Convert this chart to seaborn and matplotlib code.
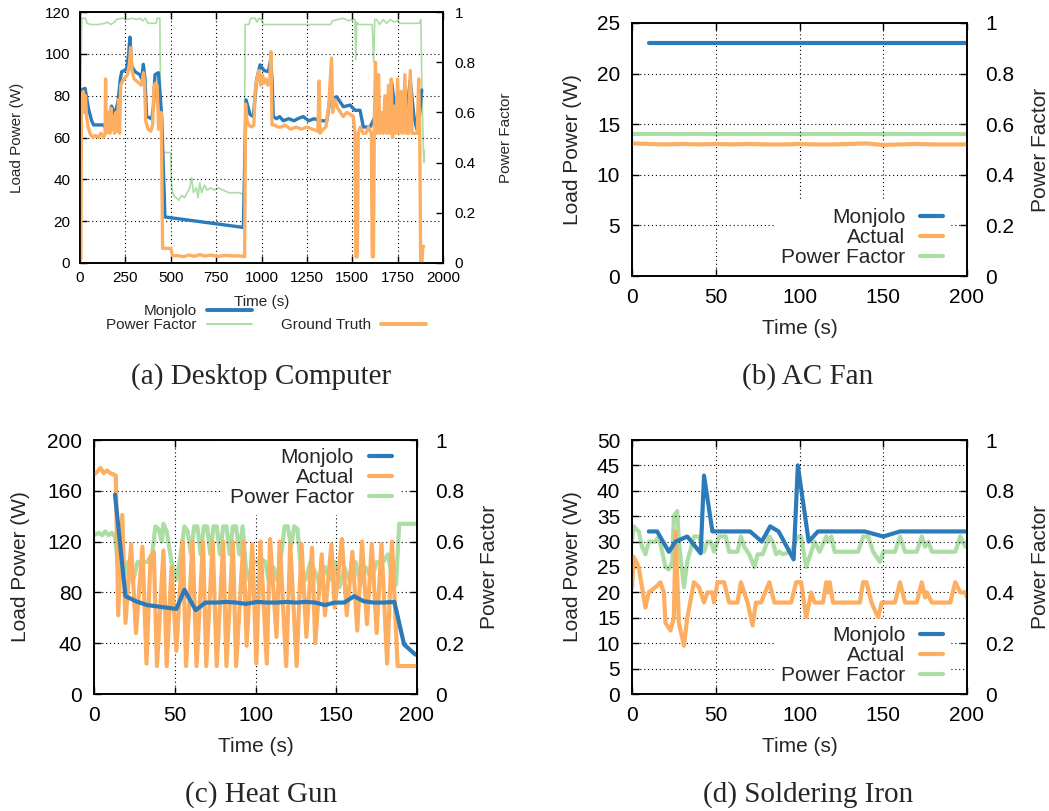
import numpy as np
import pandas as pd
import matplotlib
matplotlib.use("Agg")
import matplotlib.pyplot as plt
from matplotlib.lines import Line2D
from matplotlib.ticker import FuncFormatter
import seaborn as sns

sns.set_theme(style="white")
plt.rcParams['font.family'] = ['Liberation Sans', 'DejaVu Sans']

BLUE = '#2b7bba'
ORANGE = '#fdae61'
GREEN = '#abdda4'

# ---------------- (a) Desktop Computer ----------------
desk_mon_t = [8, 15, 28, 46, 64, 75, 100, 128, 140, 147, 160, 174, 193, 211, 222, 230, 245, 257, 268,
              275, 285, 303, 330, 340, 349, 358, 367, 395, 405, 413, 432, 442, 450, 468, 900, 915, 937,
              955, 973, 992, 1014, 1038, 1050, 1058, 1065, 1083, 1100, 1120, 1150, 1180, 1200, 1230,
              1260, 1290, 1320, 1340, 1360, 1377, 1414, 1451, 1488, 1515, 1543, 1561, 1598, 1635, 1672,
              1700, 1718, 1740, 1755, 1782, 1800, 1819, 1840, 1855, 1870, 1883]
desk_mon_w = [82, 83, 83.5, 74, 68, 66, 66, 66, 65, 72, 70, 75, 71, 78, 88, 91.5, 92, 93, 100,
              108, 94, 91.5, 90, 88, 95, 88, 70, 69, 75, 90, 91, 80, 70, 22, 17, 78, 71,
              70, 87.5, 94.7, 92, 91.5, 97, 88, 70, 69, 70, 68, 69, 68, 69, 70,
              68, 69, 68, 68, 68, 78, 79.5, 74.7, 75.5, 73, 73, 65, 65, 71.5, 71.5,
              68, 86, 70, 79.5, 81, 70, 87.5, 70, 64, 70, 82.7]

desk_gt_t = [0, 5, 8, 12, 18, 24, 30, 36, 45, 55, 70, 85, 100, 115, 130, 138, 141, 145, 155, 160, 165,
             172, 178, 184, 190, 198, 205, 212, 218, 224, 235, 250, 262, 272, 279, 286, 298, 312, 325,
             338, 350, 356, 362, 375, 390, 400, 407, 416, 425, 433, 441, 448, 455, 500, 510, 540, 570,
             600, 630, 660, 690, 720, 760, 800, 850, 900, 907, 912, 920, 930, 945, 958, 965, 975, 985,
             995, 1005, 1015, 1025, 1035, 1045, 1052, 1058, 1070, 1090, 1110, 1130, 1160, 1190, 1220,
             1250, 1280, 1310, 1318, 1322, 1340, 1355, 1370, 1386, 1392, 1405, 1420, 1435, 1450, 1470,
             1490, 1505, 1515, 1520, 1527, 1530, 1533, 1545, 1560, 1575, 1590, 1605, 1610, 1617, 1622,
             1628, 1635, 1645, 1652, 1660, 1670, 1680, 1690, 1700, 1708, 1715, 1722, 1730, 1740, 1750,
             1760, 1770, 1780, 1790, 1800, 1810, 1820, 1830, 1845, 1858, 1866, 1872, 1877, 1884, 1888,
             1893]
desk_gt_w = [2, 2, 78, 80, 82, 72, 80, 70, 65, 62, 60, 61, 60, 62, 60, 62, 88, 62, 65, 72, 62,
             74, 64, 70, 62, 72, 63, 78, 62, 85, 87, 89, 90, 95, 103, 92, 88, 87, 86,
             85, 91, 85, 68, 64, 63, 66, 84, 86, 85, 64, 65, 72, 7, 7, 3.5, 3.5, 3,
             3.8, 3.2, 4, 3.3, 3.8, 3.2, 3.6, 3.4, 3.3, 3, 76, 68, 66, 65, 66, 82, 88, 92,
             85, 90, 86, 88, 85, 87, 101, 66, 66, 65, 65, 66, 64, 65, 64,
             65, 64, 63, 87, 62, 64, 65, 75, 98, 72, 78, 74, 72, 70, 72,
             71, 70, 62, 3, 3, 17, 62, 65, 62, 62, 65, 62, 3, 3, 70,
             96, 62, 90, 62, 72, 62, 80, 62, 85, 62, 88, 60, 75, 62, 88,
             62, 82, 62, 90, 62, 62, 92, 62, 62, 62, 88, 60, 0, 0, 7,
             8]

desk_pf_t = [3, 10, 30, 38, 60, 100, 140, 150, 170, 190, 200, 230, 260, 290, 310, 330, 345, 360, 375,
             400, 420, 425, 440, 446, 500, 505, 515, 530, 545, 560, 575, 590, 605, 615, 625, 640, 650,
             660, 670, 685, 700, 720, 740, 760, 790, 820, 850, 880, 905, 910, 930, 940, 965, 975, 985,
             1000, 1010, 1100, 1200, 1300, 1380, 1390, 1420, 1450, 1480, 1500, 1515, 1520, 1525, 1535,
             1600, 1610, 1618, 1624, 1635, 1650, 1670, 1690, 1710, 1730, 1750, 1760, 1800, 1830, 1870,
             1878, 1884, 1892, 1895, 1897]
desk_pf_v = [0.65, 0.975, 0.975, 0.955, 0.95, 0.95, 0.955, 0.96, 0.95, 0.96, 0.97, 0.975, 0.97, 0.975,
             0.97, 0.975, 0.965, 0.975, 0.955, 0.955, 0.955, 0.975, 0.975, 0.44, 0.44, 0.30, 0.27,
             0.26, 0.25, 0.27, 0.26, 0.28, 0.30, 0.34, 0.28, 0.30, 0.26, 0.32, 0.28, 0.31, 0.29, 0.30,
             0.29, 0.30, 0.29, 0.28, 0.28, 0.28, 0.27, 0.95, 0.95, 0.975, 0.975, 0.96, 0.975, 0.97,
             0.95, 0.95, 0.95, 0.95, 0.95, 0.965, 0.97, 0.975, 0.965, 0.97, 0.97, 0.81, 0.96, 0.95,
             0.95, 0.95, 0.80, 0.97, 0.97, 0.95, 0.97, 0.955, 0.97, 0.96, 0.965, 0.955, 0.955, 0.955,
             0.955, 0.97, 0.69, 0.44, 0.40, 0.45]

# ---------------- (b) AC Fan ----------------
fan_mon_t = [10, 20, 30, 40, 50, 60, 70, 80, 90, 100, 110, 120, 130, 140, 150, 160, 170, 180, 190, 200]
fan_mon_w = [23] * 20
fan_act_t = [0, 10, 20, 30, 40, 50, 60, 70, 80, 90, 100, 110, 120, 130, 140, 150, 160, 170, 180, 190, 200]
fan_act_w = [13.1, 13.05, 13.0, 13.05, 13.0, 13.05, 13.0, 13.05, 13.0, 13.0, 13.05, 13.0, 13.0,
             13.05, 13.1, 12.95, 13.0, 13.05, 13.0, 13.0, 13.0]
fan_pf_t = [0, 50, 100, 150, 200]
fan_pf_v = [0.56, 0.56, 0.56, 0.56, 0.56]

# ---------------- (c) Heat Gun ----------------
gun_mon_t = [13, 19.5, 26, 33, 39, 45, 51, 56, 63, 69, 76, 82, 88, 94, 101, 107, 113, 119, 125, 131,
             137, 143, 149, 155, 161, 167, 173, 179, 186, 192, 199]
gun_mon_w = [157, 77, 73, 70, 69, 68, 67, 82, 66, 72, 72, 72.5, 72, 71, 72.5, 72, 72, 72.5, 72, 72.5,
             72, 70, 72, 72, 77, 73, 72, 72, 72.5, 39, 31]
gun_act_t = [0, 2, 4, 6, 8, 10, 12, 13.5, 15, 17.5, 19.5, 23, 26, 30, 32.5, 35, 37, 39, 43, 45, 48, 51,
             55, 57, 61, 63.5, 67.5, 69.5, 73.5, 76, 80, 82, 86, 88, 92.5, 94.5, 98, 100.5, 103, 107,
             109, 113, 115, 119, 121.5, 125.5, 128.5, 131.5, 135, 137, 141, 143, 147, 149, 153.5,
             156.5, 160, 163, 166, 169, 172, 175, 178, 181.5, 184.5, 188, 200]
gun_act_w = [173, 175, 178, 174, 176, 174, 173, 172, 62, 141, 56, 118, 48, 116, 24, 108, 112, 22, 113,
             22, 100, 34, 120, 22, 120, 22, 120, 22, 120, 22, 120, 22, 120, 22, 120, 38, 118, 24, 120,
             24, 122, 45, 120, 22, 118, 22, 118, 45, 115, 40, 110, 62, 118, 68, 122, 62, 112, 50, 120,
             55, 118, 48, 118, 24, 120, 22, 22]
gun_pf_t = [0, 3, 5, 7, 9, 11, 13, 15, 18, 21, 24, 27, 30, 33, 36, 38, 40, 42, 43, 45, 48, 51, 53, 56,
            58, 60, 62, 64, 66, 68, 70, 72, 74, 76, 78, 80, 82, 84, 86, 88, 90, 92, 94, 96, 99, 101,
            104, 106, 108, 111, 113, 116, 118, 120, 122, 124, 126, 128, 131, 134, 137, 140, 143, 146,
            149, 152, 155, 158, 162, 165, 168, 172, 175, 179, 182, 185, 187, 189, 200]
gun_pf_v = [0.625, 0.635, 0.625, 0.64, 0.625, 0.635, 0.62, 0.50, 0.45, 0.52, 0.44, 0.52, 0.52, 0.52,
            0.55, 0.66, 0.65, 0.60, 0.67, 0.64, 0.52, 0.45, 0.52, 0.66, 0.64, 0.55, 0.66, 0.66, 0.55,
            0.66, 0.66, 0.55, 0.66, 0.66, 0.55, 0.66, 0.66, 0.55, 0.66, 0.66, 0.55, 0.66, 0.50, 0.45,
            0.52, 0.52, 0.53, 0.52, 0.45, 0.50, 0.45, 0.55, 0.66, 0.66, 0.58, 0.66, 0.65, 0.50, 0.45,
            0.52, 0.48, 0.42, 0.50, 0.45, 0.52, 0.42, 0.50, 0.45, 0.52, 0.43, 0.50, 0.45, 0.52, 0.52,
            0.55, 0.44, 0.43, 0.67, 0.67]

# ---------------- (d) Soldering Iron ----------------
iron_mon_t = [10, 15, 22, 26, 33, 41, 43, 48, 55, 62, 70.5, 77.5, 82.5, 87.5, 96.5, 99, 105.5, 111,
              120, 130, 139, 150, 160, 170, 180, 190, 200]
iron_mon_w = [32, 32, 28, 30, 31, 27.7, 43, 32, 32, 32, 32, 30, 33, 32, 26.5, 45, 30, 32, 32, 32, 32,
              31, 32, 32, 32, 32, 32]
iron_act_t = [0, 1, 4, 6, 8, 10, 14, 17, 19, 20, 23, 25, 26, 28, 31, 33, 37, 40, 43, 45, 48, 49, 51,
              55, 58, 63, 65, 67, 69, 72, 74, 77, 82, 85, 90, 95, 98, 101, 104, 107, 109, 114, 116,
              117, 118, 120, 136, 138, 140, 143, 147, 149, 157, 160, 163, 170, 173, 175, 176, 179, 190,
              193, 196, 199, 200]
iron_act_w = [21, 27, 25, 21, 17, 20, 21, 22, 20, 14, 12.5, 15, 32, 14, 9.5, 15, 22, 21, 18, 20, 20,
              18, 22, 22, 18, 18, 22, 20, 18, 13.5, 18, 18, 22, 18, 18, 18, 22, 22, 15, 20, 18, 18, 22,
              20, 22, 18, 18, 22, 22, 18, 15, 18, 18, 22, 18, 18, 22, 19, 20, 18, 18, 22, 20, 20, 19]
iron_pf_t = [0, 1, 4, 6, 8, 10, 14, 16, 18, 20, 22, 24, 25, 27, 28, 31, 33, 37, 40, 43, 45, 47, 49, 52,
             56, 58, 63, 65, 67, 70, 73, 75, 78, 82, 84, 86, 88, 90, 95, 99, 101, 104, 107, 109, 112,
             116, 117, 119, 121, 135, 138, 141, 144, 148, 150, 157, 160, 163, 170, 173, 175, 177, 179,
             193, 196, 199, 200]
iron_pf_v = [0.60, 0.66, 0.64, 0.58, 0.55, 0.60, 0.60, 0.62, 0.56, 0.50, 0.49, 0.52, 0.70, 0.72, 0.60,
             0.42, 0.52, 0.62, 0.62, 0.56, 0.60, 0.60, 0.56, 0.62, 0.62, 0.56, 0.56, 0.62, 0.58, 0.55,
             0.50, 0.55, 0.55, 0.62, 0.60, 0.55, 0.56, 0.55, 0.56, 0.62, 0.62, 0.50, 0.56, 0.60, 0.56,
             0.62, 0.60, 0.62, 0.56, 0.56, 0.62, 0.62, 0.56, 0.52, 0.56, 0.56, 0.62, 0.56, 0.56, 0.62,
             0.58, 0.60, 0.56, 0.56, 0.62, 0.58, 0.60]

W, H = 1049, 811
fig = plt.figure(figsize=(W / 100, H / 100), dpi=100)


def rect(l, t, r, b):
    return [l / W, 1 - b / H, (r - l) / W, (b - t) / H]


def fmt(v, _):
    return '%g' % v


def setup(ax, ax2, fs, xticks, yticks, ylabel_x, ylabel2_x, xlabel_y, xpad, ypad, y2pad):
    ax.set_zorder(ax2.get_zorder() + 1)
    ax.patch.set_visible(False)
    ax2.set_ylim(0, 1)
    ax2.set_yticks([0, 0.2, 0.4, 0.6, 0.8, 1.0])
    ax2.yaxis.set_major_formatter(FuncFormatter(fmt))
    ax.set_xlim(xticks[0], xticks[-1])
    ax.set_xticks(xticks)
    ax.set_ylim(yticks[0], yticks[-1])
    ax.set_yticks(yticks)
    ax.grid(True, color='black', linestyle=(0, (1, 2.5)), linewidth=0.8)
    ax2.grid(False)
    for a in (ax, ax2):
        for s in a.spines.values():
            s.set_color('black')
            s.set_linewidth(1.2)
    ax.tick_params(axis='x', direction='in', length=5, width=1, labelsize=fs, colors='black',
                   pad=xpad, bottom=True, top=True)
    ax.tick_params(axis='y', direction='in', length=5, width=1, labelsize=fs, colors='black',
                   pad=ypad, left=True, right=False)
    ax2.tick_params(axis='y', direction='in', length=5, width=1, labelsize=fs, colors='black',
                    pad=y2pad, right=True, left=False)
    ax.set_ylabel('Load Power (W)', fontsize=fs)
    ax2.set_ylabel('Power Factor', fontsize=fs)
    ax.set_xlabel('Time (s)', fontsize=fs)
    ax.yaxis.set_label_coords(ylabel_x, 0.5)
    ax.yaxis.label.set_va('center')
    ax2.yaxis.set_label_coords(ylabel2_x, 0.5)
    ax2.yaxis.label.set_va('center')
    ax.xaxis.set_label_coords(0.5, xlabel_y)
    ax.xaxis.label.set_va('center')


def line(ax, t, v, c, lw):
    sns.lineplot(x=t, y=v, ax=ax, color=c, linewidth=lw, estimator=None, sort=False, legend=False)


# (a)
axa = fig.add_axes(rect(80, 12, 443, 263))
axa2 = axa.twinx()
line(axa2, desk_pf_t, desk_pf_v, GREEN, 1.2)
line(axa, desk_mon_t, desk_mon_w, BLUE, 2.4)
line(axa, desk_gt_t, desk_gt_w, ORANGE, 2.4)
setup(axa, axa2, 11, [0, 250, 500, 750, 1000, 1250, 1500, 1750, 2000], [0, 20, 40, 60, 80, 100, 120],
      -0.174, 1.174, -0.155, 5.5, 7, 8.5)
ha = [Line2D([], [], color=BLUE, lw=2.8), Line2D([], [], color=GREEN, lw=1.4),
      Line2D([], [], color='none'), Line2D([], [], color=ORANGE, lw=2.8)]
la = ['Monjolo', 'Power Factor', ' ', 'Ground Truth']
fig.legend(ha, la, ncol=2, loc='upper right', bbox_to_anchor=(426 / W, 1 - 304 / H), frameon=False,
           markerfirst=False, fontsize=11, handlelength=2.95, handletextpad=0.65, columnspacing=1.9,
           labelspacing=0.0, borderpad=0, borderaxespad=0)

# (b)
axb = fig.add_axes(rect(632, 23, 967, 276))
axb2 = axb.twinx()
line(axb2, fan_pf_t, fan_pf_v, GREEN, 3)
line(axb, fan_act_t, fan_act_w, ORANGE, 3)
line(axb, fan_mon_t, fan_mon_w, BLUE, 3)
setup(axb, axb2, 15, [0, 50, 100, 150, 200], [0, 5, 10, 15, 20, 25], -0.179, 1.218, -0.206,
      8.5, 8.5, 13)

# (c)
axc = fig.add_axes(rect(94, 440, 417, 694))
axc2 = axc.twinx()
line(axc2, gun_pf_t, gun_pf_v, GREEN, 3)
line(axc, gun_act_t, gun_act_w, ORANGE, 3)
line(axc, gun_mon_t, gun_mon_w, BLUE, 3)
setup(axc, axc2, 15, [0, 50, 100, 150, 200], [0, 40, 80, 120, 160, 200], -0.229, 1.226, -0.205,
      8.5, 8.5, 13)

# (d)
axd = fig.add_axes(rect(632, 440, 967, 694))
axd2 = axd.twinx()
line(axd2, iron_pf_t, iron_pf_v, GREEN, 3)
line(axd, iron_act_t, iron_act_w, ORANGE, 3)
line(axd, iron_mon_t, iron_mon_w, BLUE, 3)
setup(axd, axd2, 15, [0, 50, 100, 150, 200], [0, 5, 10, 15, 20, 25, 30, 35, 40, 45, 50],
      -0.179, 1.218, -0.205, 8.5, 8.5, 13)

hs = [Line2D([], [], color=BLUE, lw=3), Line2D([], [], color=ORANGE, lw=3),
      Line2D([], [], color=GREEN, lw=3)]
ls = ['Monjolo', 'Actual', 'Power Factor']
legkw = dict(markerfirst=False, fontsize=15, handlelength=1.1, handletextpad=0.7, labelspacing=0.05,
             borderpad=0.35, borderaxespad=0, frameon=True, facecolor='white', edgecolor='none',
             framealpha=1, fancybox=False)
axb.legend(hs, ls, loc='lower right', bbox_to_anchor=(0.95, 0.005), **legkw)
axc.legend(hs, ls, loc='upper right', bbox_to_anchor=(0.944, 0.996), **legkw)
axd.legend(hs, ls, loc='lower right', bbox_to_anchor=(0.95, 0.005), **legkw)

serif = ['Liberation Serif', 'DejaVu Serif']
fig.text(261 / W, 1 - 377 / H, '(a) Desktop Computer', family=serif, fontsize=21, ha='center', va='center')
fig.text(808 / W, 1 - 377 / H, '(b) AC Fan', family=serif, fontsize=21, ha='center', va='center')
fig.text(261 / W, 1 - 795 / H, '(c) Heat Gun', family=serif, fontsize=21, ha='center', va='center')
fig.text(808 / W, 1 - 795 / H, '(d) Soldering Iron', family=serif, fontsize=21, ha='center', va='center')

fig.savefig('out.png', dpi=100)
